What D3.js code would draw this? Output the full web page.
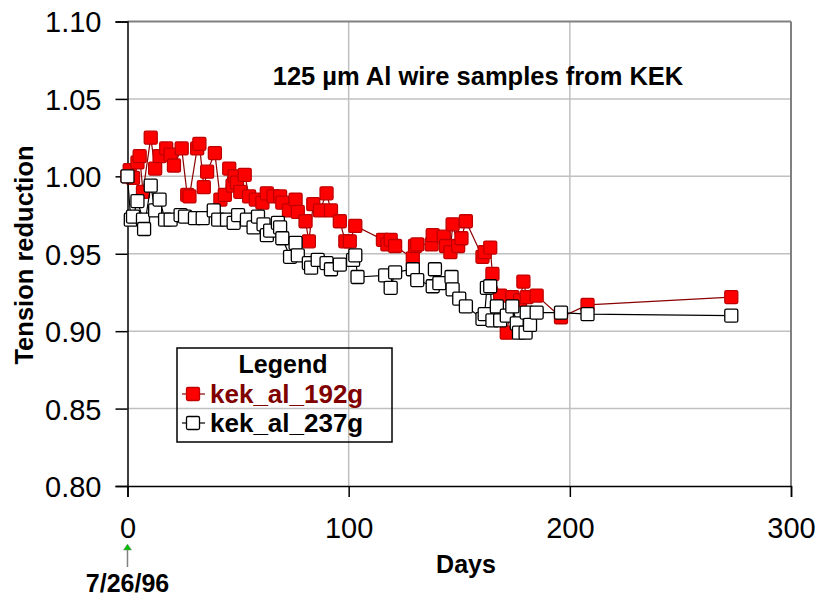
<!DOCTYPE html>
<html><head><meta charset="utf-8">
<script src="https://cdn.jsdelivr.net/npm/d3@7"></script>
<style>
body{margin:0;background:#fff;}
svg{display:block;font-family:Arial,"Liberation Sans",sans-serif;}
</style></head>
<body><svg id="c" width="819" height="598"></svg>
<script>
const seriesNames = ["kek_al_192g", "kek_al_237g"];
const days192 = [0,1,2.5,4.5,5.5,7,10.5,12.5,14.5,17.5,19.5,21,24.5,27,28,31.5,32.5,34.5,36,39.5,42,44,46,47.5,48.5,49.5,51,53,55,58,61,63,66,69,70,73,76,77,80.5,82,84,87,90,92,96,98.5,100.5,103,115.5,117.5,119,121,129,130,131,137.5,138,143,144,146,147,149.5,151,153,160.5,161.5,164,165,168.5,171.5,174,177.5,179,180.5,185,196,208,273];
const vals192 = [1.000,1.004,0.999,1.009,1.013,0.990,1.025,1.005,1.013,1.018,1.014,1.007,1.018,0.988,0.987,1.018,1.021,0.993,1.003,1.015,0.985,0.988,1.005,0.994,1.000,0.996,0.990,1.001,0.987,0.985,0.983,0.989,0.987,0.987,0.983,0.978,0.985,0.977,0.971,0.958,0.982,0.978,0.989,0.978,0.971,0.958,0.958,0.968,0.959,0.956,0.959,0.955,0.947,0.955,0.956,0.956,0.962,0.961,0.955,0.951,0.969,0.955,0.960,0.971,0.948,0.951,0.954,0.937,0.923,0.899,0.922,0.920,0.932,0.922,0.923,0.909,0.917,0.922];
const days237 = [0,1.5,2.5,4.5,7,7.5,10.5,12.5,14.5,17,19.5,24,26,30.5,34,39,41,45,48,50,54,57,59,61.5,63,64.5,68,69,70,73.5,76,77,82,83,86,90,92,96,102,103,104,116.5,119,121,129,131,138,139,141,146.5,147,150,153,160.5,161.5,162.5,164,165,167,168.5,171.5,174,176,177,180,180.5,182,185,196,208,273];
const vals237 = [1.000,0.972,0.974,0.984,0.972,0.966,0.994,0.978,0.985,0.972,0.972,0.975,0.974,0.973,0.973,0.978,0.972,0.972,0.970,0.975,0.972,0.967,0.974,0.969,0.962,0.965,0.970,0.967,0.960,0.948,0.957,0.949,0.944,0.941,0.946,0.944,0.940,0.943,0.946,0.949,0.935,0.936,0.928,0.938,0.940,0.933,0.929,0.940,0.931,0.935,0.927,0.921,0.916,0.908,0.911,0.928,0.929,0.907,0.916,0.907,0.910,0.916,0.905,0.899,0.899,0.912,0.904,0.912,0.912,0.911,0.910];
const xTicks = [0, 100, 200, 300];
const yTicks = [0.80, 0.85, 0.90, 0.95, 1.00, 1.05, 1.10];
const titleText = "125 \u00b5m Al wire samples from KEK";
const xTitle = "Days", yTitle = "Tension reduction", dateLabel = "7/26/96", legendTitle = "Legend";

const svg = d3.select("#c");
const L = 127.5, R = 791, T = 21.5, B = 486;
const x = d3.scaleLinear().domain([0, 300]).range([L, R]);
const y = d3.scaleLinear().domain([0.80, 1.10]).range([B, T]);

// gridlines
const g = svg.append("g");
g.selectAll(".hg").data(yTicks.slice(1, -1)).join("line")
  .attr("x1", L).attr("x2", R).attr("y1", d => y(d)).attr("y2", d => y(d))
  .attr("stroke", "#c0c0c0").attr("stroke-width", 1.5);
g.selectAll(".vg").data(xTicks.slice(1, -1)).join("line")
  .attr("y1", T).attr("y2", B).attr("x1", d => x(d)).attr("x2", d => x(d))
  .attr("stroke", "#c0c0c0").attr("stroke-width", 1.5);
g.append("line").attr("x1", L).attr("x2", R).attr("y1", T).attr("y2", T).attr("stroke", "#808080").attr("stroke-width", 2);
g.append("line").attr("x1", R).attr("x2", R).attr("y1", T).attr("y2", B).attr("stroke", "#808080").attr("stroke-width", 2);

// axes
const ya = svg.append("g").attr("transform", `translate(${L},0)`)
  .call(d3.axisLeft(y).tickValues(yTicks).tickSize(12).tickPadding(14).tickFormat(d3.format(".2f")));
const xa = svg.append("g").attr("transform", `translate(0,${B})`)
  .call(d3.axisBottom(x).tickValues(xTicks).tickSize(11).tickPadding(20).tickFormat(d3.format("d")));
[ya, xa].forEach(a => {
  a.select(".domain").attr("stroke", "#000").attr("stroke-width", 1.5);
  a.selectAll(".tick line").attr("stroke", "#000").attr("stroke-width", 1.5);
  a.selectAll("text").attr("fill", "#000").style("font-size", "29px").style("font-family", "Arial, 'Liberation Sans', sans-serif");
});
ya.selectAll("text").attr("dy", "0.36em");

// series
const sq = 13;
function drawSeries(days, vals, lineColor, fill, stroke) {
  const pts = days.map((d, i) => [d, vals[i]]);
  svg.append("path").datum(pts)
    .attr("d", d3.line().x(p => x(p[0])).y(p => y(p[1])))
    .attr("fill", "none").attr("stroke", lineColor).attr("stroke-width", 1.2);
  svg.append("g").selectAll("rect").data(pts).join("rect")
    .attr("x", p => x(p[0]) - sq / 2).attr("y", p => y(p[1]) - sq / 2)
    .attr("width", sq).attr("height", sq).attr("rx", 1.5)
    .attr("fill", fill).attr("stroke", stroke).attr("stroke-width", 1.3);
}
drawSeries(days192, vals192, "#8b0000", "#ff0000", "#c00000");
drawSeries(days237, vals237, "#000000", "#ffffff", "#000000");

// title
svg.append("text").attr("x", 478).attr("y", 85).attr("text-anchor", "middle")
  .style("font-size", "25.5px").style("font-weight", "bold").text(titleText);

// axis titles
svg.append("text").attr("x", 466).attr("y", 573).attr("text-anchor", "middle")
  .style("font-size", "25px").style("font-weight", "bold").text(xTitle);
svg.append("text").attr("transform", "translate(33,255) rotate(-90)").attr("text-anchor", "middle")
  .style("font-size", "25.5px").style("font-weight", "bold").text(yTitle);

// date marker
svg.append("line").attr("x1", x(0)).attr("x2", x(0)).attr("y1", 548).attr("y2", 567).attr("stroke", "#808080").attr("stroke-width", 1.5);
svg.append("path").attr("d", `M${x(0)},544 L${x(0) - 4},550 L${x(0) + 4},550 Z`).attr("fill", "#00c000").attr("stroke", "#808080").attr("stroke-width", 0.5);
svg.append("text").attr("x", x(0)).attr("y", 592).attr("text-anchor", "middle")
  .style("font-size", "25px").style("font-weight", "bold").text(dateLabel);

// legend
const lg = svg.append("g");
lg.append("rect").attr("x", 177).attr("y", 348).attr("width", 215).attr("height", 94)
  .attr("fill", "none").attr("stroke", "#000").attr("stroke-width", 1.5);
lg.append("text").attr("x", 283).attr("y", 373).attr("text-anchor", "middle")
  .style("font-size", "25px").style("font-weight", "bold").text(legendTitle);
const legItems = [
  {name: seriesNames[0], line: "#8b0000", fill: "#ff0000", stroke: "#c00000", text: "#800000", cy: 394},
  {name: seriesNames[1], line: "#000", fill: "#fff", stroke: "#000", text: "#000", cy: 423}
];
legItems.forEach(it => {
  lg.append("line").attr("x1", 182).attr("x2", 205).attr("y1", it.cy).attr("y2", it.cy).attr("stroke", it.line).attr("stroke-width", 1.2);
  lg.append("rect").attr("x", 193 - 6.5).attr("y", it.cy - 6.5).attr("width", 13).attr("height", 13).attr("rx", 1.5)
    .attr("fill", it.fill).attr("stroke", it.stroke).attr("stroke-width", 1.3);
  lg.append("text").attr("x", 210).attr("y", it.cy + 9).attr("fill", it.text)
    .style("font-size", "26px").style("font-weight", "bold").text(it.name);
});
</script></body></html>
